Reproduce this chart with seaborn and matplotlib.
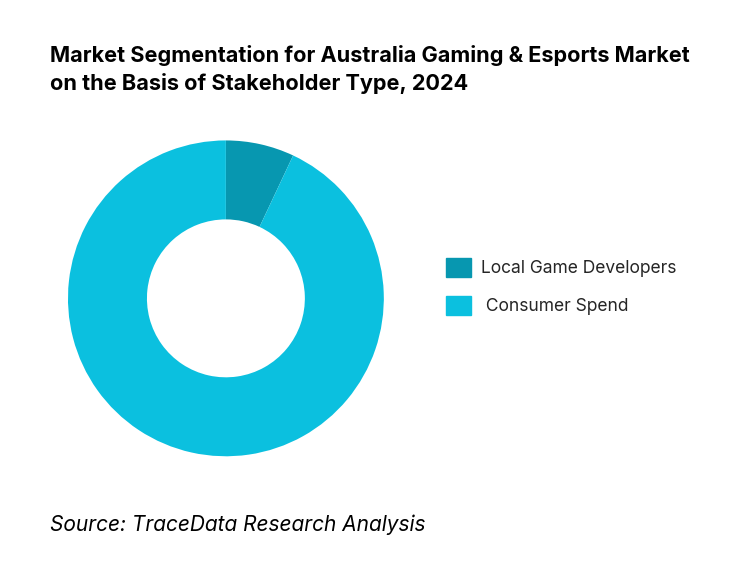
import matplotlib
matplotlib.use("Agg")
import matplotlib.pyplot as plt
import seaborn as sns
from matplotlib.patches import Patch

# Data
segments = ["Local Game Developers", " Consumer Spend"]
shares = [7, 93]
colors = ["#0797B0", "#0BC0DF"]

sns.set_theme(style="white", font="Inter")

fig = plt.figure(figsize=(7.53, 5.64), dpi=100)
ax = fig.add_axes([0.090, 0.191, 0.42, 0.560])
ax.pie(shares, colors=colors, startangle=90, counterclock=False,
       wedgeprops=dict(width=0.5, linewidth=0))
ax.set_xlim(-1, 1)
ax.set_ylim(-1, 1)
ax.set_aspect("equal")

fig.text(0.066, 0.920, "Market Segmentation for Australia Gaming & Esports Market\non the Basis of Stakeholder Type, 2024",
         fontsize=15.6, fontweight="bold", va="top", ha="left", linespacing=1.4,
         color="black")

handles = [Patch(color=c, label=s) for c, s in zip(colors, segments)]
fig.legend(handles=handles, loc="center left", bbox_to_anchor=(0.572, 0.492),
           frameon=False, fontsize=12.5, handlelength=1.4, handleheight=1.3,
           labelspacing=1.1, handletextpad=0.6)

fig.text(0.066, 0.058, "Source: TraceData Research Analysis", fontsize=15,
         style="italic", ha="left", color="black")

fig.savefig("out.png", dpi=100)
